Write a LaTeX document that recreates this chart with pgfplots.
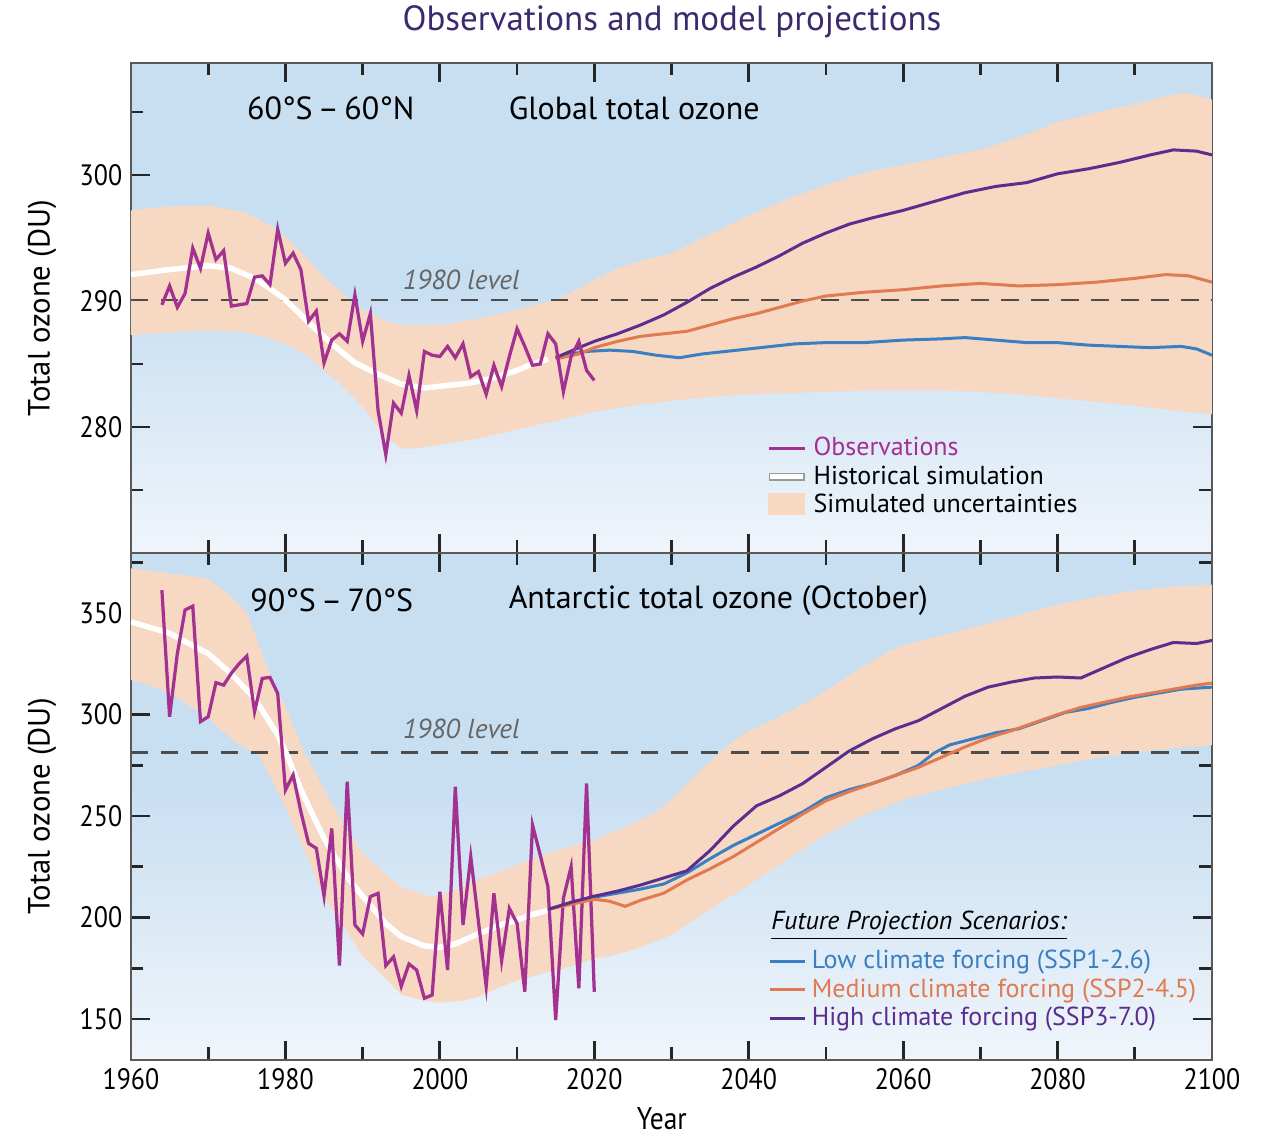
\documentclass[border=0pt]{standalone}
\usepackage{fontspec}
\setmainfont{PT Sans}
\newfontfamily\condfont[FakeStretch=0.88]{PT Sans}
\usepackage{pgfplots}
\pgfplotsset{compat=1.18}
\definecolor{bgblue}{HTML}{C8DFF2}
\definecolor{bgmid}{HTML}{DCEAF6}
\definecolor{bglow}{HTML}{F0F5FB}
\definecolor{band}{HTML}{F7D8C3}
\definecolor{obs}{HTML}{A3318F}
\definecolor{ssp1}{HTML}{3A7FC1}
\definecolor{ssp2}{HTML}{E07A50}
\definecolor{ssp3}{HTML}{5B2D8E}
\definecolor{ttl}{HTML}{3C2A6E}
\pgfdeclareverticalshading{panelbg}{100bp}{color(0bp)=(bglow); color(25bp)=(bglow); color(38bp)=(bgmid); color(52bp)=(bgblue); color(100bp)=(bgblue)}
\pgfplotsset{
  panel/.style={
    scale only axis, width=432.4pt,
    xmin=1960, xmax=2100,
    xtick={1960,1980,...,2100},
    minor xtick={1970,1990,...,2090},
    tick align=inside,
    major tick length=7.6pt, minor tick length=5pt,
    every tick/.style={line width=1.1pt, black!85},
    axis line style={line width=0.9pt, black!65},
    axis background/.style={shade, shading=panelbg},
    /pgf/number format/assume math mode=true,
    /pgf/number format/1000 sep={},
    ticklabel style={font=\condfont\fontsize{11.8}{13}\selectfont},
    ylabel style={at={(axis description cs:-0.0823,0.5)}, anchor=center, font=\fontsize{12.3}{14}\selectfont},
    legend image code/.code={\draw[##1] (0cm,0cm) -- (0.5cm,0cm);},
    legend style={draw=none, fill=none, inner sep=0pt, font=\fontsize{10.4}{12}\selectfont,
      cells={anchor=west}, row sep=-1.6pt},
  }
}
\begin{document}
\begin{tikzpicture}
% ---------------- top panel ----------------
\begin{axis}[panel, at={(0,202.8pt)}, height=196pt,
  ymin=270, ymax=308.9, ytick={280,290,300}, minor ytick={275,285,295,305},
  xticklabels={}, ylabel={Total ozone (DU)},
  legend style={at={(0.586,0.247)}, anchor=north west}]
\addplot[fill=band, draw=none, forget plot] coordinates {
(1960,297.2) (1965,297.5) (1970,297.6) (1975,297) (1978,296) (1980,295.1) (1983,293.3) (1985,291.9) (1988,290.3) (1990,289.3) (1993,288.4) (1995,288.1) (2000,288.1) (2005,288.6) (2010,289.3) (2015,290.1) (2018,291.0) (2020,291.7) (2023,292.6) (2026,293.2) (2030,293.8) (2035,295.3) (2040,296.8) (2045,298.1) (2050,299.2) (2055,300.2) (2060,300.8) (2065,301.4) (2070,302.0) (2075,303.0) (2080,304.2) (2085,305.0) (2090,305.6) (2095,306.4) (2097,306.5) (2100,306.0)
(2100,281.0) (2095,281.3) (2090,281.7) (2085,282.0) (2080,282.3) (2075,282.6) (2070,282.8) (2065,282.9) (2060,282.9) (2055,282.9) (2050,282.8) (2045,282.7) (2040,282.6) (2035,282.4) (2030,282.1) (2025,281.7) (2020,281.2) (2015,280.5) (2010,279.8) (2005,279.1) (2000,278.6) (1997,278.3) (1995,278.3) (1993,279.2) (1990,281.6) (1987,283.5) (1985,284.5) (1983,285.6) (1980,286.6) (1977,287.2) (1975,287.5) (1970,287.7) (1965,287.5) (1960,287.3)
} -- cycle;
\addplot[dashed, dash pattern=on 7pt off 5pt, line width=1pt, black!70, forget plot] coordinates {(1960,290.1) (2100,290.1)};
\addplot[white, line width=2.2pt, forget plot] coordinates {
(1960,292.1) (1965,292.5) (1970,292.8) (1973,292.6) (1976,291.8) (1978,291.0) (1980,290.1) (1983,288.3) (1986,286.6) (1989,285.1) (1992,284.2) (1995,283.4) (1998,283.1) (2001,283.3) (2004,283.5) (2007,283.9) (2010,284.5) (2012,285.0) (2014,285.4)};
\addplot[ssp1, line width=1.2pt, forget plot] coordinates {
(2015,285.5) (2017,285.8) (2019,286.0) (2022,286.1) (2025,286.0) (2028,285.7) (2031,285.5) (2034,285.8) (2037,286.0) (2040,286.2) (2043,286.4) (2046,286.6) (2050,286.7) (2055,286.7) (2060,286.9) (2065,287.0) (2068,287.1) (2072,286.9) (2076,286.7) (2080,286.7) (2084,286.5) (2088,286.4) (2092,286.3) (2096,286.4) (2098,286.2) (2100,285.7)};
\addplot[ssp2, line width=1.2pt, forget plot] coordinates {
(2015,285.4) (2018,285.8) (2020,286.3) (2023,286.8) (2026,287.2) (2029,287.4) (2032,287.6) (2035,288.1) (2038,288.6) (2041,289.0) (2044,289.5) (2047,290.0) (2050,290.4) (2055,290.7) (2060,290.9) (2065,291.2) (2070,291.4) (2075,291.2) (2080,291.3) (2085,291.5) (2090,291.8) (2094,292.1) (2097,292.0) (2100,291.5)};
\addplot[ssp3, line width=1.2pt, forget plot] coordinates {
(2015,285.5) (2018,286.3) (2020,286.8) (2023,287.4) (2026,288.1) (2029,288.9) (2032,289.9) (2035,291.0) (2038,291.9) (2041,292.7) (2044,293.6) (2047,294.6) (2050,295.4) (2053,296.1) (2056,296.6) (2060,297.2) (2064,297.9) (2068,298.6) (2072,299.1) (2076,299.4) (2080,300.1) (2084,300.5) (2088,301.0) (2092,301.6) (2095,302.0) (2098,301.9) (2100,301.6)};
\addplot[obs, line width=1.3pt, forget plot] coordinates {
(1964,289.7) (1965,291.2) (1966,289.5) (1967,290.6) (1968,294.2) (1969,292.6) (1970,295.4) (1971,293.3) (1972,294.0) (1973,289.6) (1974,289.7) (1975,289.8) (1976,291.9) (1977,292.0) (1978,291.3) (1979,295.7) (1980,293.0) (1981,293.8) (1982,292.5) (1983,288.4) (1984,289.2) (1985,285.1) (1986,286.9) (1987,287.4) (1988,286.8) (1989,290.5) (1990,286.8) (1991,289.0) (1992,281.3) (1993,277.8) (1994,281.9) (1995,281.1) (1996,284.1) (1997,281.3) (1998,286.0) (1999,285.7) (2000,285.6) (2001,286.4) (2002,285.5) (2003,286.6) (2004,284.0) (2005,284.4) (2006,282.6) (2007,284.9) (2008,283.2) (2009,285.6) (2010,287.8) (2011,286.4) (2012,284.9) (2013,285.0) (2014,287.4) (2015,286.6) (2016,282.8) (2017,285.6) (2018,286.8) (2019,284.5) (2020,283.7)};
\addlegendimage{line width=1.3pt, obs}
\addlegendentry{\textcolor{obs}{Observations}}
\addlegendimage{legend image code/.code={\draw[black!40, line width=3.2pt] (0cm,0cm) -- (0.5cm,0cm); \draw[white, line width=2pt] (0.02cm,0cm) -- (0.48cm,0cm);}}
\addlegendentry{Historical simulation}
\addlegendimage{legend image code/.code={\fill[band] (0cm,-0.14cm) rectangle (0.5cm,0.16cm);}}
\addlegendentry{Simulated uncertainties}
\node[anchor=west, inner sep=0pt, font=\fontsize{12.8}{14}\selectfont] at (rel axis cs:0.107,0.908) {60°S\,–\,60°N};
\node[anchor=west, inner sep=0pt, font=\fontsize{12.8}{14}\selectfont] at (rel axis cs:0.349,0.908) {Global total ozone};
\node[anchor=west, inner sep=0pt, font=\itshape\fontsize{11}{13}\selectfont, black!60] at (rel axis cs:0.251,0.557) {1980 level};
\end{axis}
% ---------------- bottom panel ----------------
\begin{axis}[panel, at={(0,0)}, height=202.8pt,
  ymin=129.8, ymax=379.6, ytick={150,200,...,350}, minor ytick={175,225,...,375},
  ylabel={Total ozone (DU)}, xlabel={Year},
  xlabel style={at={(axis description cs:0.491,0)}, yshift=-23.6pt, anchor=center, font=\condfont\fontsize{12.5}{14}\selectfont},
  legend style={at={(0.589,0.227)}, anchor=north west}]
\addplot[fill=band, draw=none, forget plot] coordinates {
(1960,372) (1965,369.5) (1970,367) (1973,358) (1975,350) (1976.5,335) (1978,320) (1980,304) (1982,285) (1985,263) (1988,243) (1990,232) (1993,221) (1995,215) (1998,211) (2000,210.5) (2003,215) (2005,219) (2008,223) (2010,226) (2013,230) (2015,233) (2018,236) (2020,238) (2023,243) (2026,248) (2028,252) (2030,258) (2032,266) (2035,277) (2038,287) (2040,292) (2043,297) (2045,301) (2048,307) (2050,312) (2053,319) (2055,324) (2058,331) (2060,334) (2063,337) (2065,339) (2068,342) (2070,344) (2075,349) (2080,354) (2085,358) (2090,361) (2095,363) (2100,364)
(2100,285) (2095,283.5) (2090,281.5) (2085,278.5) (2080,275) (2075,271.5) (2070,267.7) (2065,263) (2060,258) (2055,250.5) (2050,241) (2045,228.5) (2040,216) (2035,204) (2030,191.5) (2025,184) (2022,181) (2020,180) (2018,177) (2015,174) (2013,172) (2010,169) (2008,166) (2005,161) (2003,159) (2000,158) (1998,159) (1995,162) (1993,170) (1990,181) (1988,193) (1985,210) (1983,228) (1980,254.6) (1976.7,279.2) (1973.2,287.4) (1970,298) (1967,306) (1965,310.4) (1962,315) (1960,317)
} -- cycle;
\addplot[dashed, dash pattern=on 7pt off 5pt, line width=1pt, black!70, forget plot] coordinates {(1960,281.3) (2100,281.3)};
\addplot[white, line width=2.2pt, forget plot] coordinates {
(1960,345.7) (1965,340) (1970,330) (1973,320) (1976,308) (1979,290) (1980,282) (1982,263) (1985,239) (1988,220) (1990,210.5) (1993,197) (1995,190.6) (1998,186) (2000,185.3) (2002,187) (2005,192) (2008,196.5) (2010,198.8) (2012,201.5) (2014,203.5)};
\addplot[obs, line width=1.3pt, forget plot] coordinates {
(1964,361.3) (1965,298.9) (1966,330) (1967,351.5) (1968,353.4) (1969,296.5) (1970,298.9) (1971,315.7) (1972,314.5) (1973,320.4) (1974,325) (1975,328.8) (1976,301.4) (1977,317.8) (1978,318.3) (1979,310.4) (1980,262.8) (1981,270.2) (1982,252.1) (1983,236.5) (1984,234.1) (1985,210.6) (1986,243.9) (1987,176.3) (1988,266.9) (1989,196.3) (1990,191.9) (1991,210.3) (1992,211.9) (1993,176.3) (1994,180.6) (1995,166.1) (1996,177.1) (1997,174.1) (1998,160.2) (1999,161.8) (2000,212.7) (2001,174.1) (2002,264.4) (2003,196.3) (2004,230.0) (2005,198) (2006,166.1) (2007,211.9) (2008,178.7) (2009,204.5) (2010,197.1) (2011,163.4) (2012,245.6) (2013,230.8) (2014,215.2) (2015,149.5) (2016,209.5) (2017,225.0) (2018,165.1) (2019,266.1) (2020,163.4)};
\addplot[ssp1, line width=1.2pt] coordinates {
(2014,204) (2017,207) (2020,210) (2023,212) (2026,214) (2029,216.5) (2032,222) (2035,229) (2038,235.5) (2041,241) (2044,246.5) (2047,252) (2050,259) (2053,263) (2056,266) (2059,270) (2062,275) (2064,281) (2066,285) (2069,288) (2072,291) (2075,293) (2078,297) (2081,301) (2084,303) (2087,306) (2090,308.5) (2093,310.5) (2096,312.5) (2100,313.5)};
\addlegendentry{\textcolor{ssp1}{Low climate forcing (SSP1-2.6)}}
\addplot[ssp2, line width=1.2pt] coordinates {
(2014,204) (2017,206.5) (2020,209) (2022,208) (2024,205.5) (2026,208.5) (2029,212) (2032,218.5) (2035,224) (2038,230) (2041,237) (2044,244) (2047,251) (2050,257.5) (2053,262) (2056,266) (2059,270) (2062,274) (2065,279) (2068,284) (2071,288.5) (2074,292) (2077,296) (2080,300) (2083,303.5) (2086,306) (2089,308.5) (2092,310.5) (2095,312.5) (2098,314.5) (2100,315.5)};
\addlegendentry{\textcolor{ssp2}{Medium climate forcing (SSP2-4.5)}}
\addplot[ssp3, line width=1.2pt] coordinates {
(2014,204) (2017,207.5) (2020,210.5) (2023,213) (2026,216) (2029,219.5) (2032,223) (2035,233) (2038,245) (2041,255) (2044,260) (2047,266) (2050,274) (2053,282) (2056,288) (2059,293) (2062,297) (2065,303) (2068,309) (2071,313.5) (2074,316) (2077,318) (2080,318.5) (2083,318) (2086,323) (2089,328) (2092,332) (2095,335.5) (2098,335) (2100,336.5)};
\addlegendentry{\textcolor{ssp3}{High climate forcing (SSP3-7.0)}}
\node[anchor=west, inner sep=0pt, font=\itshape\fontsize{10.4}{12}\selectfont] at (rel axis cs:0.592,0.266) {\underline{Future Projection Scenarios:}};
\node[anchor=west, inner sep=0pt, font=\fontsize{12.8}{14}\selectfont] at (rel axis cs:0.110,0.907) {90°S\,–\,70°S};
\node[anchor=west, inner sep=0pt, font=\fontsize{12.8}{14}\selectfont] at (rel axis cs:0.349,0.907) {Antarctic total ozone (October)};
\node[anchor=west, inner sep=0pt, font=\itshape\fontsize{11}{13}\selectfont, black!60] at (rel axis cs:0.251,0.653) {1980 level};
\end{axis}
\node[font=\fontsize{14}{16}\selectfont, ttl] at (216.4pt,415.2pt) {Observations and model projections};
\pgfresetboundingbox
\path (-52.4pt,-30pt) rectangle (454.8pt,424pt);
\end{tikzpicture}
\end{document}
